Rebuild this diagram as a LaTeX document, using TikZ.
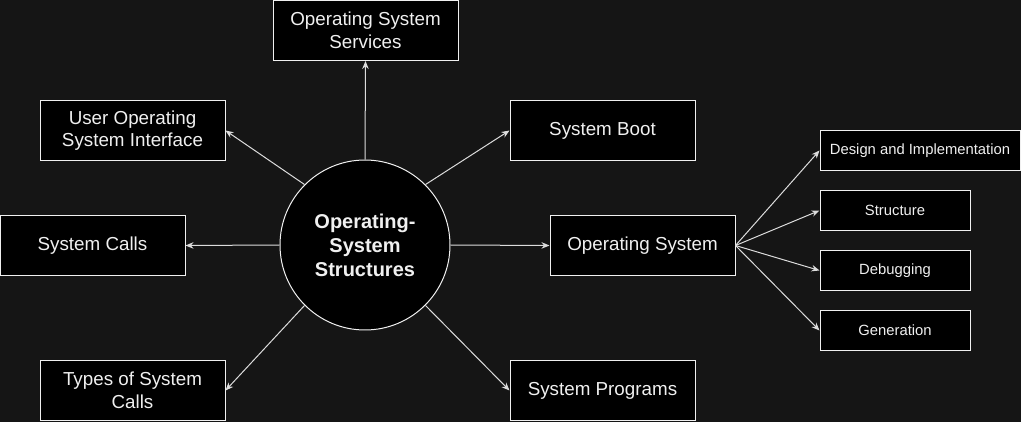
\documentclass[tikz,border=0pt]{standalone}
\usepackage{fontspec}
\setmainfont{Liberation Sans}
\usetikzlibrary{arrows.meta}
\definecolor{bg}{HTML}{151515}
\definecolor{fg}{HTML}{F0F0F0}
\definecolor{edge}{HTML}{DCDCDC}
\begin{document}
\begin{tikzpicture}[x=1pt,y=-1pt,
  box/.style={draw=fg,fill=black,line width=1pt,text=fg,align=center,inner sep=0pt},
  bigbox/.style={box,minimum width=185pt,minimum height=60pt,font=\fontsize{18.8}{22.5}\selectfont},
  smallbox/.style={box,minimum height=40pt,font=\fontsize{14.8}{17}\selectfont},
  conn/.style={draw=edge,line width=1pt,-{Stealth[length=8pt,width=6.5pt]}}]
\fill[bg] (0,0) rectangle (1021,422);
\useasboundingbox (0,0) rectangle (1021,422);
\node[draw=fg,fill=black,line width=1pt,circle,minimum size=170pt,inner sep=0pt,text=fg,align=center,
  font=\fontsize{20}{24}\selectfont\bfseries] (c) at (365,245) {Operating-\\System\\Structures};
\node[bigbox] (oss) at (365.5,30.5) {Operating System\\Services};
\node[bigbox] (uosi) at (132.5,130.5) {User Operating\\System Interface};
\node[bigbox] (boot) at (602.5,130.5) {System Boot};
\node[bigbox] (calls) at (92.5,245.5) {System Calls};
\node[bigbox] (os) at (642.5,245.5) {Operating System};
\node[bigbox] (types) at (132.5,390.5) {Types of System\\Calls};
\node[bigbox] (prog) at (602.5,390.5) {System Programs};
\node[smallbox,minimum width=200pt] (des) at (920,150.5) {Design and Implementation};
\node[smallbox,minimum width=150pt] (str) at (895,210.5) {Structure};
\node[smallbox,minimum width=150pt] (dbg) at (895,270.5) {Debugging};
\node[smallbox,minimum width=150pt] (gen) at (895,330.5) {Generation};
\draw[conn] (c.north) -- (oss.south);
\draw[conn] (c.west) -- (calls.east);
\draw[conn] (c.east) -- (os.west);
\draw[conn] (c.135) -- (uosi.east);
\draw[conn] (c.45) -- (boot.west);
\draw[conn] (c.225) -- (types.east);
\draw[conn] (c.-45) -- (prog.west);
\draw[conn] (os.east) -- (des.west);
\draw[conn] (os.east) -- (str.west);
\draw[conn] (os.east) -- (dbg.west);
\draw[conn] (os.east) -- (gen.west);
\end{tikzpicture}
\end{document}
